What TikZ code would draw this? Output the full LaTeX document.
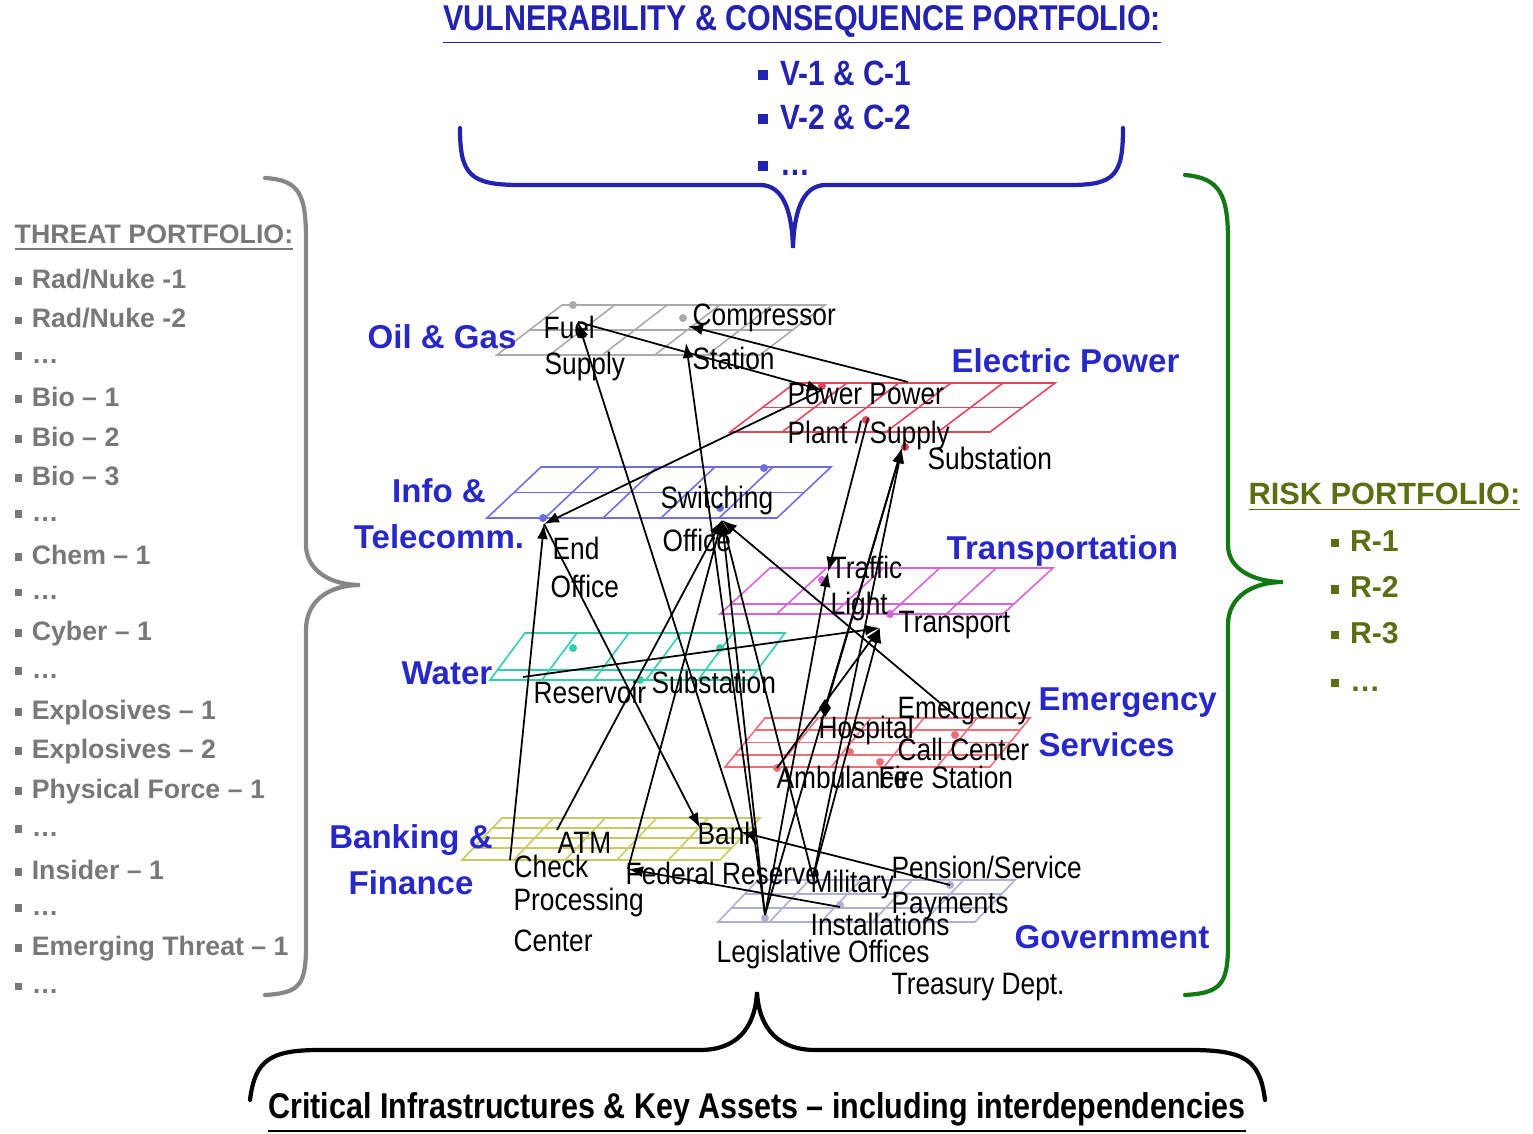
\documentclass[tikz,border=0pt]{standalone}
\usepackage{fontspec}
\setmainfont{Liberation Sans}
\newfontfamily\narrowfont[FakeStretch=0.85,Ligatures=TeX]{Liberation Sans}
\definecolor{TitleBlue} {RGB}{35,35,175}
\definecolor{SectorBlue}{RGB}{40,40,200}
\definecolor{ThreatGray}{RGB}{120,120,120}
\definecolor{RiskGreen} {RGB}{90,110,20}
\definecolor{BraceGreen}{RGB}{20,120,20}
\definecolor{BraceGray} {RGB}{135,135,135}
\definecolor{GasGray}   {RGB}{170,170,170}
\definecolor{PowerRed}  {RGB}{225,70,90}
\definecolor{TelBlue}   {RGB}{110,110,225}
\definecolor{TransMag}  {RGB}{215,100,215}
\definecolor{WaterTeal} {RGB}{50,205,170}
\definecolor{EmerRed}   {RGB}{235,110,120}
\definecolor{BankYel}   {RGB}{200,200,100}
\definecolor{GovLav}    {RGB}{175,175,210}
\usetikzlibrary{arrows.meta,calc}
\newcommand{\bul}{\rule[0.25ex]{0.55ex}{0.55ex}\hspace{0.35em}}

\begin{document}
\begin{tikzpicture}[x=0.1mm,y=-0.1mm,
    every node/.style={inner sep=0pt},
    asset/.style={anchor=west,font=\narrowfont\fontsize{8.8}{10}\selectfont},
    sector/.style={text=SectorBlue,font=\bfseries\fontsize{9.4}{13}\selectfont},
    threat/.style={anchor=west,text=ThreatGray,font=\bfseries\fontsize{7.6}{9}\selectfont},
    risk/.style={anchor=west,text=RiskGreen,font=\bfseries\fontsize{8.6}{10}\selectfont},
    vuln/.style={anchor=west,text=TitleBlue,font=\narrowfont\bfseries\fontsize{10}{12}\selectfont},
    plane/.style={line width=0.45pt},
    link/.style={-{Latex[length=1.5mm,width=1.1mm]},line width=0.5pt},
    brace/.style={line width=1.2pt,line cap=round}]
  \useasboundingbox (0,0) rectangle (1533,1134);

  % infrastructure planes
  \foreach \c/\xl/\xr/\yb/\yt/\s/\hl in {
      GasGray/497/760/355/305/65/{0.5},
      PowerRed/730/990/432/383/65/{0.5},
      TelBlue/487/777/518/467/54/{0.5},
      TransMag/720/1003/614/568/50/{0.22},
      WaterTeal/490/750/680/633/35/{0.21},
      EmerRed/725/990/767/718/40/{0.25,0.5,0.75},
      BankYel/462/720/860/818/40/{0.29,0.52,0.76},
      GovLav/718/975/922/880/40/{0.33,0.67}}{
    \draw[plane,\c] (\xl,\yb) -- (\xl+\s,\yt) -- (\xr+\s,\yt) -- (\xr,\yb) -- cycle;
    \foreach \f in {0.2,0.4,0.6,0.8}
      \draw[plane,\c] ($(\xl,\yb)!\f!(\xr,\yb)$) -- ++(\s,\yt-\yb);
    \foreach \g in \hl
      \draw[plane,\c] ($(\xl,\yb)!\g!(\xl+\s,\yt)$) -- ++(\xr-\xl,0);
  }
  \foreach \c/\x/\y in {GasGray/573/305,GasGray/683/318,PowerRed/822/386,
      PowerRed/866/420,PowerRed/905/447,TelBlue/543/518,TelBlue/720/508,
      TelBlue/764/468,TransMag/822/580,TransMag/890/614,WaterTeal/573/648,
      WaterTeal/720/648,WaterTeal/640/680,EmerRed/777/768,EmerRed/850/752,
      EmerRed/955/735,EmerRed/880/762,GovLav/950/885,GovLav/840/905,GovLav/765/918}
    \fill[\c] (\x,\y) circle (0.4mm);

  % sector names
  \node[sector,anchor=west] (oil) at (367,337) {Oil \& Gas};
  \node[sector,anchor=west] (elec) at (951,361) {Electric Power};
  \node[sector,align=center] (info) at (439,514) {Info \&\\Telecomm.};
  \node[sector,anchor=west] (trans) at (946,551) {Transportation};
  \node[sector,anchor=west] (water) at (401,673) {Water};
  \node[sector,anchor=west,align=left] (emer) at (1038,722) {Emergency\\Services};
  \node[sector,align=center] (bankfin) at (411,860) {Banking \&\\Finance};
  \node[sector,anchor=west] (gov) at (1014,937) {Government};

  % assets
  \node[asset] (l-fuel) at (543,327) {Fuel};
  \node[asset] (l-supply) at (544,367) {Supply};
  \node[asset] (l-comp) at (692,318) {Compressor};
  \node[asset] (l-station) at (692,358) {Station};
  \node[asset] (l-pp1) at (787,394) {Power Power};
  \node[asset] (l-pp2) at (787,436) {Plant / Supply};
  \node[asset] (l-subst) at (927,458) {Substation};
  \node[asset] (l-sw1) at (660,501) {Switching};
  \node[asset] (l-sw2) at (662,540) {Office};
  \node[asset] (l-end1) at (552,548) {End};
  \node[asset] (l-end2) at (550,586) {Office};
  \node[asset] (l-tl1) at (830,567) {Traffic};
  \node[asset] (l-tl2) at (830,607) {Light};
  \node[asset] (l-trans) at (898,625) {Transport};
  \node[asset] (l-res) at (533,692) {Reservoir};
  \node[asset] (l-wsub) at (651,682) {Substation};
  \node[asset] (l-em1) at (897,711) {Emergency};
  \node[asset] (l-em2) at (897,749) {Call Center};
  \node[asset] (l-hosp) at (818,731) {Hospital};
  \node[asset] (l-amb) at (776,777) {Ambulance};
  \node[asset] (l-fire) at (878,777) {Fire Station};
  \node[asset] (l-atm) at (557,843) {ATM};
  \node[asset] (l-chk1) at (513,866) {Check};
  \node[asset] (l-chk2) at (513,903) {Processing};
  \node[asset] (l-chk3) at (513,941) {Center};
  \node[asset] (l-bank) at (697,833) {Bank};
  \node[asset] (l-fed) at (625,873) {Federal Reserve};
  \node[asset] (l-pen1) at (891,867) {Pension/Service};
  \node[asset] (l-pen2) at (891,906) {Payments};
  \node[asset] (l-mil1) at (810,885) {Military};
  \node[asset] (l-mil2) at (810,924) {Installations};
  \node[asset] (l-leg) at (716,955) {Legislative Offices};
  \node[asset] (l-treas) at (891,987) {Treasury Dept.};

  % interdependencies
  \coordinate (fuel) at (578,322);   \coordinate (comp) at (688,326);
  \coordinate (compst) at (686,343); \coordinate (pwr) at (908,382);
  \coordinate (pplant) at (822,390); \coordinate (psupply) at (868,418);
  \coordinate (subst) at (902,448);  \coordinate (endoff) at (544,524);
  \coordinate (switch) at (722,520); \coordinate (trafl) at (828,572);
  \coordinate (transp) at (880,628); \coordinate (reserv) at (523,677);
  \coordinate (hosp) at (825,708);   \coordinate (amb) at (777,768);
  \coordinate (callc) at (958,718);  \coordinate (atm) at (557,830);
  \coordinate (check) at (510,860);  \coordinate (bank) at (700,828);
  \coordinate (bankr) at (741,832);  \coordinate (fedres) at (628,869);
  \coordinate (pension) at (950,885); \coordinate (military) at (813,878);
  \coordinate (instal) at (840,907); \coordinate (legis) at (765,915);
  \foreach \a/\b in {pwr/comp,fuel/pplant,pplant/endoff,bankr/fuel,endoff/bank,
      check/endoff,atm/switch,instal/fedres,fedres/switch,legis/compst,
      legis/switch,military/switch,psupply/trafl,reserv/transp,callc/switch,
      amb/transp,hosp/subst,legis/subst,military/subst,military/transp,
      legis/trafl,pension/bankr}
    \draw[link] (\a) -- (\b);
  \fill (825,699) -- (831,708) -- (825,717) -- (819,708) -- cycle;

  % vulnerability & consequence
  \node[text=TitleBlue,font=\narrowfont\bfseries\fontsize{10.2}{12}\selectfont]
    (vtitle) at (802,25) {\underline{VULNERABILITY \& CONSEQUENCE PORTFOLIO:}};
  \node[vuln] (v1) at (757,73) {\bul V-1 \& C-1};
  \node[vuln] (v2) at (757,117) {\bul V-2 \& C-2};
  \node[vuln] (v3) at (757,168) {\bul\ldots};
  \draw[brace,TitleBlue] (460,128) .. controls (460,175) and (470,185) .. (520,185)
    -- (760,185) .. controls (785,185) and (792,215) .. (793,248)
    .. controls (794,215) and (801,185) .. (826,185) -- (1070,185)
    .. controls (1115,185) and (1123,175) .. (1123,128);

  % threats
  \node[threat] (ttitle) at (14,238) {\underline{THREAT PORTFOLIO:}};
  \foreach \t [count=\i] in {Rad/Nuke -1,Rad/Nuke -2,\ldots,Bio -- 1,Bio -- 2,
      Bio -- 3,\ldots,Chem -- 1,\ldots,Cyber -- 1,\ldots,Explosives -- 1,
      Explosives -- 2,Physical Force -- 1,\ldots,Insider -- 1,\ldots,
      Emerging Threat -- 1,\ldots}
    \node[threat] (t\i) at (14,{279+39.4*(\i-1)}) {\bul\t};
  \draw[brace,BraceGray] (265,178) .. controls (300,180) and (306,195) .. (306,240)
    -- (306,545) .. controls (306,570) and (330,585) .. (360,585)
    .. controls (330,585) and (306,600) .. (306,630) -- (306,945)
    .. controls (306,985) and (300,993) .. (265,995);

  % risks
  \node[risk,font=\bfseries\fontsize{8.75}{10}\selectfont] (rtitle) at (1248,497)
    {\underline{RISK PORTFOLIO:}};
  \foreach \r/\y in {R-1/541,R-2/587,R-3/633,\ldots/685}
    \node[risk] (r\y) at (1330,\y) {\bul\r};
  \draw[brace,BraceGreen] (1185,175) .. controls (1220,178) and (1228,195) .. (1228,240)
    -- (1228,545) .. controls (1228,570) and (1255,582) .. (1283,582)
    .. controls (1255,582) and (1228,595) .. (1228,625) -- (1228,945)
    .. controls (1228,985) and (1220,993) .. (1185,995);

  % critical infrastructures
  \draw[brace] (250,1100) .. controls (255,1060) and (270,1050) .. (320,1050)
    -- (700,1050) .. controls (735,1050) and (755,1030) .. (757,992)
    .. controls (759,1030) and (780,1050) .. (815,1050) -- (1190,1050)
    .. controls (1245,1050) and (1260,1060) .. (1265,1100);
  \node[font=\narrowfont\bfseries\fontsize{10.2}{12}\selectfont] (cikr) at (757,1113)
    {\underline{Critical Infrastructures \& Key Assets \textendash\ including interdependencies}};
\end{tikzpicture}
\end{document}
